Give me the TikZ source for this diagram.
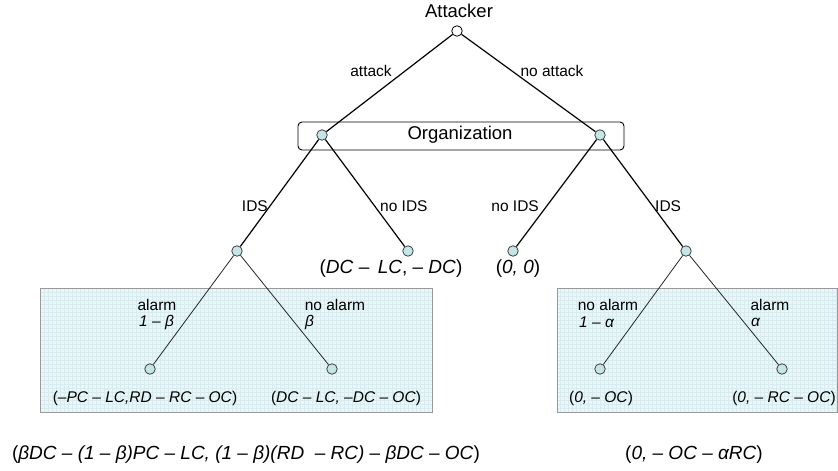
\documentclass[tikz,border=0pt]{standalone}
\usepackage{fontspec}
\setmainfont{Liberation Sans}
\begin{document}
\begin{tikzpicture}[x=1pt,y=-1pt,
  chance/.style={circle,draw=black!75,fill=nodecyan,line width=0.8pt,minimum size=10.5pt,inner sep=0pt},
  rootnode/.style={circle,draw=black,fill=white,line width=0.8pt,minimum size=10.5pt,inner sep=0pt},
  branch/.style={line width=1.2pt},
  subbranch/.style={line width=0.8pt,draw=black!85},
  lbl/.style={font=\fontsize{15.5}{17}\selectfont,inner sep=0pt},
  big/.style={font=\fontsize{18.5}{20}\selectfont,inner sep=0pt},
  pay/.style={font=\fontsize{19}{21}\selectfont,inner sep=0pt},
  spay/.style={font=\fontsize{15.5}{17}\selectfont,inner sep=0pt},
  panel/.style={draw=black!40,line width=0.8pt}]
\definecolor{nodecyan}{RGB}{196,230,232}
\definecolor{panelfill}{RGB}{234,246,248}
\definecolor{gridcyan}{RGB}{216,236,240}
\useasboundingbox (0,0) rectangle (838,471);

% shaded panels with a fine grid
\foreach \xa/\xb in {40/432, 557/837}{
  \fill[panelfill] (\xa,288) rectangle (\xb,412);
  \begin{scope}
    \clip (\xa,288) rectangle (\xb,412);
    \draw[gridcyan,line width=0.35pt,step=4pt] (\xa-4,284) grid (\xb+4,416);
  \end{scope}
  \draw[panel] (\xa,288) rectangle (\xb,412);
}

% organization bar
\node[draw,rounded corners=4pt,line width=0.9pt,minimum width=326pt,minimum height=28pt,inner sep=0pt] (org) at (461,136) {};
\node[big] (orglbl) at (460,135) {Organization};

% nodes
\node[rootnode] (att) at (457,31) {};
\node[big] (attlbl) at (459,11) {Attacker};
\node[chance] (oa) at (322,135) {};
\node[chance] (on) at (600,135) {};
\node[chance] (ai) at (237,251) {};
\node[chance] (an) at (408,251) {};
\node[chance] (nn) at (513,251) {};
\node[chance] (ni) at (686,251) {};
\node[chance] (aa) at (150,369) {};
\node[chance] (ana) at (332,369) {};
\node[chance] (nna) at (600,369) {};
\node[chance] (nal) at (782,369) {};

% branches
\draw[branch] (att) -- (oa);
\draw[branch] (att) -- (on);
\draw[branch] (oa) -- (ai);
\draw[branch] (oa) -- (an);
\draw[branch] (on) -- (nn);
\draw[branch] (on) -- (ni);
\draw[subbranch] (ai) -- (aa);
\draw[subbranch] (ai) -- (ana);
\draw[subbranch] (ni) -- (nna);
\draw[subbranch] (ni) -- (nal);

% branch labels
\node[lbl] (l1) at (371,71) {attack};
\node[lbl] (l2) at (552,71) {no attack};
\node[lbl,anchor=east] (l3) at (268,206) {IDS};
\node[lbl,anchor=west] (l4) at (380,206) {no IDS};
\node[lbl,anchor=east] (l5) at (539,206) {no IDS};
\node[lbl,anchor=west] (l6) at (655,206) {IDS};
\node[lbl] (l7) at (157,305) {alarm};
\node[lbl,anchor=west] (l8) at (139,322) {\itshape 1 -- β};
\node[lbl] (l9) at (335,305) {no alarm};
\node[lbl,anchor=west] (l10) at (305,322) {\itshape β};
\node[lbl] (l11) at (608,305) {no alarm};
\node[lbl,anchor=west] (l12) at (579,322) {\itshape 1 -- α};
\node[lbl] (l13) at (770,305) {alarm};
\node[lbl,anchor=west] (l14) at (751,322) {\itshape α};

% payoffs
\node[pay] (p1) at (391,269) {(\textit{DC} -- \,\textit{LC}, -- \textit{DC})};
\node[pay] (p2) at (518,269) {(\textit{0, 0})};
\node[spay] (p3) at (145,398) {(\textit{--PC -- LC,RD -- RC -- OC})};
\node[spay] (p4) at (346,398) {(\textit{DC -- LC, --DC -- OC})};
\node[spay] (p5) at (601,398) {(\textit{0, -- OC})};
\node[spay] (p6) at (784,398) {(\textit{0, -- RC -- OC})};
\node[pay] (p7) at (246,455) {(\textit{βDC -- (1 -- β)PC -- LC, (1 -- β)(RD\ \ -- RC) -- βDC -- OC})};
\node[pay] (p8) at (694,455) {(\textit{0, -- OC -- αRC})};
\end{tikzpicture}
\end{document}
